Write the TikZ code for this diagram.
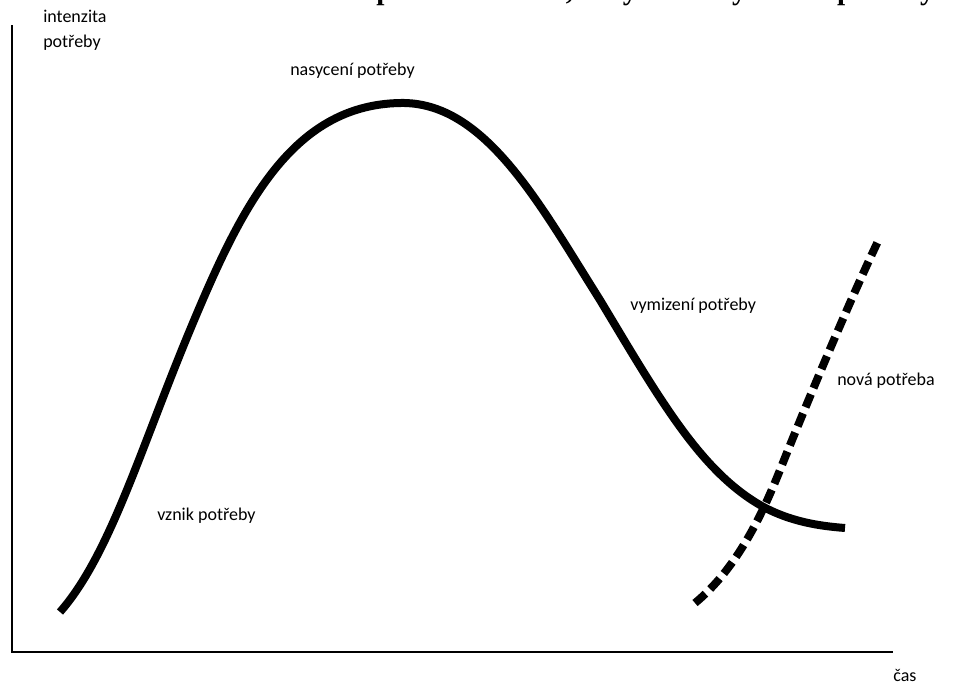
\documentclass[tikz,border=0pt]{standalone}
\usepackage{fontspec}
\setmainfont{Carlito}
\newfontfamily\titlefont{Liberation Serif}
\begin{document}
\begin{tikzpicture}[x=0.75pt,y=-0.75pt,
  axisline/.style={line width=1.6pt},
  mainline/.style={line width=6pt},
  newline/.style={line width=6pt, dash pattern=on 10.5pt off 5pt},
  lbl/.style={font=\fontsize{13.5}{16}\selectfont, inner sep=0pt, anchor=base west}]
\useasboundingbox (0,0) rectangle (956,686);
\begin{scope}
\clip (0,0) rectangle (956,686);
% cropped title
\node (title) [font=\titlefont\bfseries\fontsize{22}{26}\selectfont, inner sep=0pt, anchor=base west] at (65,-1) {Schematické znázornění procesu vzniku, nasycení a vymizení potřeby};
\end{scope}
% axes
\coordinate (o) at (12,652);
\coordinate (ytop) at (12,25);
\coordinate (xend) at (893,652);
\draw[axisline] (ytop) -- (o) -- (xend);
% labels
\node (ylab1) [lbl] at (43,22) {intenzita};
\node (ylab2) [lbl] at (43,47) {potřeby};
\node (xlab) [lbl] at (893,681) {čas};
\node (peak) [lbl] at (290,75) {nasycení potřeby};
\node (fade) [lbl] at (630,310) {vymizení potřeby};
\node (new) [lbl] at (837,385) {nová potřeba};
\node (birth) [lbl] at (157,520) {vznik potřeby};
% main curve
\draw[mainline] (60,612) .. controls (110,555) and (140,450) .. (190,330)
  .. controls (240,210) and (290,105) .. (400,103)
  .. controls (485,101) and (540,205) .. (600,300)
  .. controls (660,400) and (700,470) .. (760,505)
  .. controls (790,522) and (820,526) .. (845,528);
% new need (dashed)
\draw[newline] (695,603) .. controls (735,570) and (760,520) .. (780,470)
  .. controls (810,395) and (850,300) .. (880,237);
\end{tikzpicture}
\end{document}
